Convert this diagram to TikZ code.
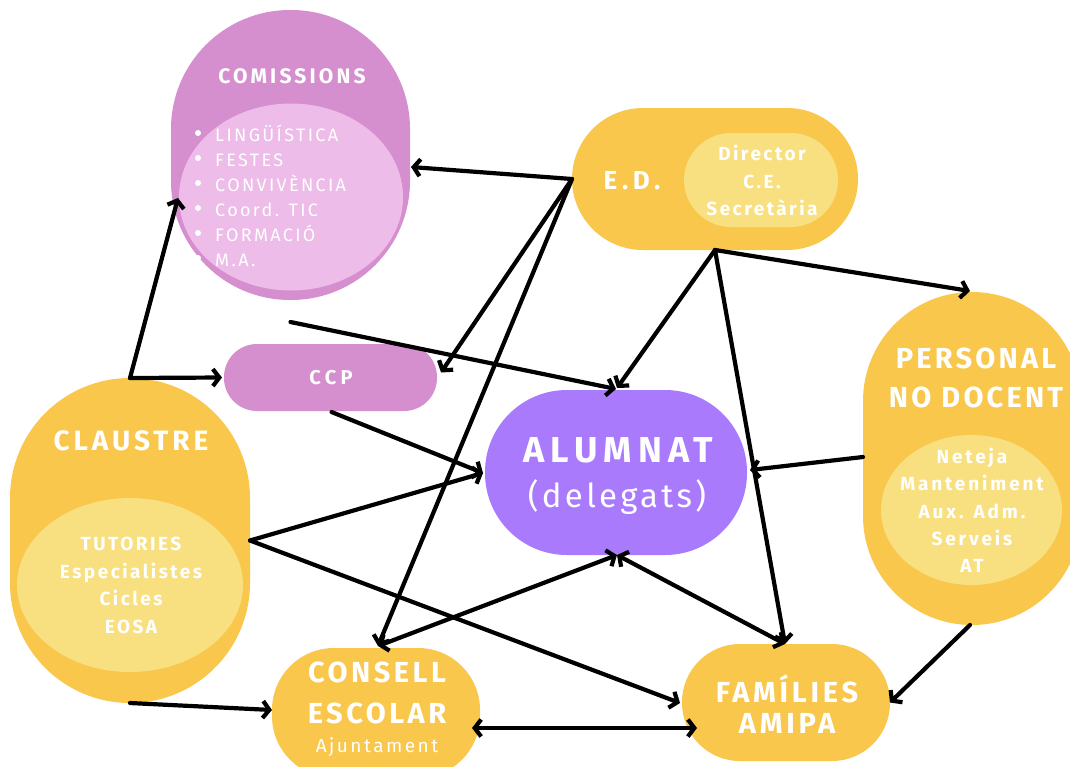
\documentclass[tikz,border=0pt]{standalone}
\usepackage{fontspec}
\setmainfont{Fira Sans}
\usetikzlibrary{arrows.meta,calc,shapes.geometric}
\definecolor{yel}{HTML}{F8C74C}
\definecolor{ylt}{HTML}{F8DF80}
\definecolor{pnk}{HTML}{D58FCE}
\definecolor{plt}{HTML}{EDBCE8}
\definecolor{vio}{HTML}{A97BFC}
\newcommand{\fsz}[3]{\fontsize{#1}{#2}\selectfont\addfontfeatures{LetterSpace=#3}}
\begin{document}
\begin{tikzpicture}[x=1pt,y=-1pt,
  blob/.style={draw=none,inner sep=0pt,outer sep=0pt,rectangle},
  inner/.style={draw=none,inner sep=0pt,outer sep=0pt,ellipse},
  txt/.style={text=white,inner sep=0pt,align=center},
  >={Straight Barb[length=6.5pt,width=17pt]},
  conn/.style={line width=4.2pt,->,line cap=round,line join=round},
  dconn/.style={line width=4.2pt,<->,line cap=round,line join=round}]
\useasboundingbox (0,0) rectangle (1070,766);

% shapes
\node[blob,fill=pnk,minimum width=239pt,minimum height=290pt,rounded corners=119pt] (com) at (290.5,155) {};
\node[inner,fill=plt,minimum width=224pt,minimum height=187pt] (comin) at (291,197) {};
\node[blob,fill=yel,minimum width=286pt,minimum height=142pt,rounded corners=71pt] (ed) at (715,179) {};
\node[blob,fill=ylt,minimum width=154pt,minimum height=94pt,rounded corners=47pt] (edin) at (761,180) {};
\node[blob,fill=yel,minimum width=218pt,minimum height=333pt,rounded corners=109pt] (pnd) at (972,458.5) {};
\node[inner,fill=ylt,minimum width=181pt,minimum height=150pt] (pndin) at (971.5,510) {};
\node[blob,fill=yel,minimum width=240pt,minimum height=325pt,rounded corners=120pt] (cla) at (130,540.5) {};
\node[inner,fill=ylt,minimum width=226pt,minimum height=174pt] (clain) at (130,585) {};
\node[blob,fill=pnk,minimum width=213pt,minimum height=67pt,rounded corners=33pt] (ccp) at (330.5,377.5) {};
\node[blob,fill=vio,minimum width=262pt,minimum height=165pt,rounded corners=82pt] (alu) at (616,472.5) {};
\node[blob,fill=yel,minimum width=208pt,minimum height=130pt,rounded corners=62pt] (ces) at (376,713) {};
\node[blob,fill=yel,minimum width=208pt,minimum height=117pt,rounded corners=58pt] (fam) at (786,702.5) {};

% texts
\node[txt,font=\bfseries\fsz{21}{24}{15}] (comt) at (292,76) {COMISSIONS};
\node[txt,anchor=west,align=left,font=\fsz{18}{25}{13}] (coml) at (215,195.5)
  {LINGÜÍSTICA\\FESTES\\CONVIVÈNCIA\\Coord. TIC\\FORMACIÓ\\M.A.};
\foreach \yy in {133,158,183,208,233,258} \fill[white] (198,\yy) circle (3pt);
\node[txt,font=\bfseries\fsz{26}{28}{18}] (edt) at (632,181) {E.D.};
\node[txt,font=\bfseries\fsz{19}{27.5}{13}] (edl) at (762,180.5) {Director\\C.E.\\Secretària};
\node[txt,font=\bfseries\fsz{29}{39}{11}] (pndt) at (976,378) {PERSONAL\\NO DOCENT};
\node[txt,font=\bfseries\fsz{19}{27.3}{15}] (pndl) at (972,510.5) {Neteja\\Manteniment\\Aux. Adm.\\Serveis\\AT};
\node[txt,font=\bfseries\fsz{28}{30}{14}] (clat) at (131,441) {CLAUSTRE};
\node[txt,font=\bfseries\fsz{19}{27.7}{13}] (clal) at (131,585.5) {TUTORIES\\Especialistes\\Cicles\\EOSA};
\node[txt,font=\bfseries\fsz{20}{22}{22}] (ccpt) at (331,378) {CCP};
\node[txt,font=\bfseries\fsz{36}{40}{17}] (alut) at (618,450) {ALUMNAT};
\node[txt,font=\fsz{33}{40}{10}] (alud) at (617,497) {(delegats)};
\node[txt,font=\bfseries\fsz{29}{41}{12}] (cest) at (377,692.5) {CONSELL\\ESCOLAR};
\node[txt,font=\fsz{19}{22}{13}] (cesa) at (377,747) {Ajuntament};
\node[txt,font=\bfseries\fsz{29}{31}{13}] (famt) at (787,704.5) {FAMÍLIES\\AMIPA};

% connectors
\draw[conn] (ed.west) -- ($(com.east)+(1,12)$);
\draw[conn] (ed.west) -- ($(ccp.east)+(4,-5)$);
\draw[conn] (ed.west) -- ($(ces.north)+(2,-2)$);
\draw[conn] (ed.south) -- ($(alu.north)+(1,-2)$);
\draw[conn] (ed.south) -- ($(pnd.north)+(-2,-1)$);
\draw[conn] (ed.south) -- ($(fam.north)+(-1,0)$);
\draw[conn] ($(com.south)+(0,22)$) -- ($(alu.north)+(0,-1)$);
\draw[conn] (cla.north) -- ($(com.west)+(7,43)$);
\draw[conn] (cla.north) -- ($(ccp.west)+(-2,0)$);
\draw[conn] ($(ccp.south)+(1,1)$) -- ($(alu.west)+(-2,0.5)$);
\draw[conn] (cla.east) -- ($(alu.west)+(-2,0.5)$);
\draw[conn] (cla.east) -- ($(fam.west)+(-2,0.5)$);
\draw[conn] (cla.south) -- ($(ces.west)+(0,-3)$);
\draw[dconn] ($(ces.north)+(2,-2)$) -- ($(alu.south)+(1,0)$);
\draw[dconn] ($(alu.south)+(1,0)$) -- ($(fam.north)+(-1,0)$);
\draw[conn] ($(pnd.west)+(0,-1.5)$) -- ($(alu.east)+(3,-2.5)$);
\draw[conn] ($(pnd.south)+(-2,0)$) -- ($(fam.east)+(0,0)$);
\draw[dconn] ($(ces.east)+(-8,15)$) -- ($(fam.west)+(15,25.5)$);
\end{tikzpicture}
\end{document}
